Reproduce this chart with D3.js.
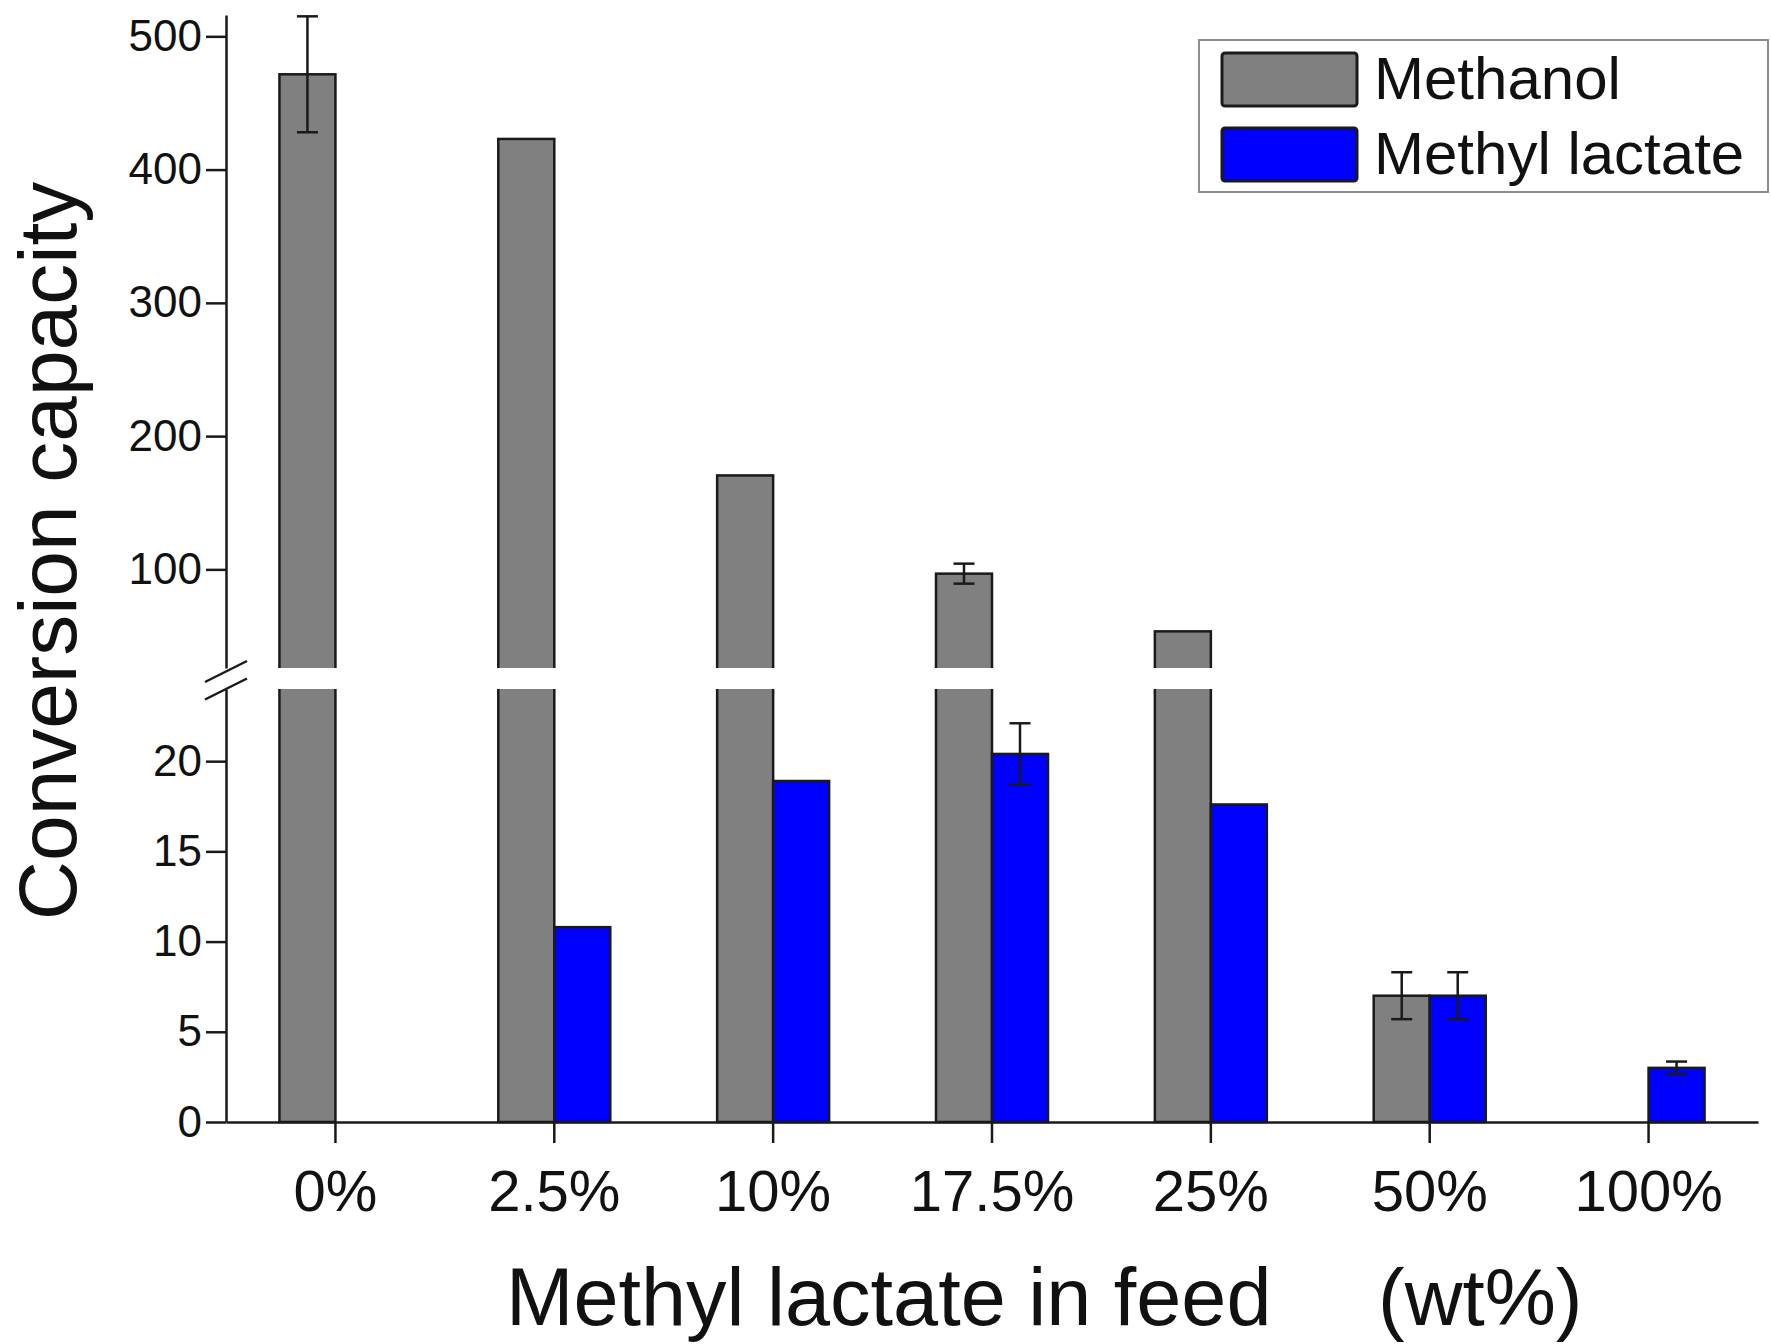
<!DOCTYPE html>
<html>
<head>
<meta charset="utf-8">
<script src="https://cdn.jsdelivr.net/npm/d3@7"></script>
<style>
  html, body { margin: 0; padding: 0; background: #fff; }
  svg { display: block; font-family: "Liberation Sans", Arial, Helvetica, sans-serif; }
</style>
</head>
<body>
<svg id="chart" width="1771" height="1344"></svg>
<script>
// Feed composition categories
const categories = ["0%", "2.5%", "10%", "17.5%", "25%", "50%", "100%"];
const seriesNames = ["Methanol", "Methyl lactate"];

// Conversion capacity per series, with error half-widths (null = no error bar)
const methanol    = [471.5, 423, 170.5, 96.8, 53.5, 7.0, 0];
const methanolErr = [43.5, null, null, 7.5, null, 1.3, null];
const lactate     = [0, 10.8, 18.9, 20.4, 17.6, 7.0, 3.0];
const lactateErr  = [null, null, null, 1.7, null, 1.3, 0.35];

// Tick values of the broken y axis
const upperTicks = [100, 200, 300, 400, 500];
const lowerTicks = [0, 5, 10, 15, 20];

const colors = { "Methanol": "#808080", "Methyl lactate": "#0000ff" };
const fontFamily = '"Liberation Sans", Arial, Helvetica, sans-serif';

const svg = d3.select("#chart");

// Scales: one band scale for feed composition, two linear segments for the broken axis
const x = d3.scaleBand().domain(categories).range([226, 1758]).padding(0);
const yUpper = d3.scaleLinear().domain([26, 516]).range([668, 15]);
const yLower = d3.scaleLinear().domain([0, 24]).range([1122, 689]);
const breakLow = yLower.domain()[1];
const breakHigh = yUpper.domain()[0];
const y = v => (v <= breakLow ? yLower(v) : yUpper(Math.max(v, breakHigh)));

const barW = 56;

const series = [
  { name: "Methanol", values: methanol, errs: methanolErr, side: -1 },
  { name: "Methyl lactate", values: lactate, errs: lactateErr, side: 0 }
];

// Bars
const gBars = svg.append("g");
series.forEach(s => {
  gBars.selectAll(null)
    .data(categories.map((c, i) => ({ c, v: s.values[i] })))
    .join("rect")
    .attr("x", d => x(d.c) + x.bandwidth() / 2 + s.side * barW)
    .attr("width", barW)
    .attr("y", d => y(d.v))
    .attr("height", d => y(0) - y(d.v))
    .attr("fill", colors[s.name])
    .attr("stroke", "#1a1a1a")
    .attr("stroke-width", 2.5);
});

// White band hiding the bars across the axis break
svg.append("rect")
  .attr("x", x.range()[0] + 10)
  .attr("width", x.range()[1] - x.range()[0])
  .attr("y", yUpper.range()[0])
  .attr("height", yLower.range()[1] - yUpper.range()[0])
  .attr("fill", "#fff");

// Error bars
const gErr = svg.append("g").attr("stroke", "#1a1a1a").attr("stroke-width", 2.5).attr("fill", "none");
series.forEach(s => {
  categories.forEach((c, i) => {
    const e = s.errs[i];
    if (e == null) return;
    const v = s.values[i];
    const cx = x(c) + x.bandwidth() / 2 + s.side * barW + barW / 2;
    const top = y(v + e), bot = y(v - e);
    gErr.append("line").attr("x1", cx).attr("x2", cx).attr("y1", top).attr("y2", bot);
    gErr.append("line").attr("x1", cx - 10.5).attr("x2", cx + 10.5).attr("y1", top).attr("y2", top);
    gErr.append("line").attr("x1", cx - 10.5).attr("x2", cx + 10.5).attr("y1", bot).attr("y2", bot);
  });
});

// Axes
function styleAxis(g, size) {
  g.attr("font-family", fontFamily);
  g.selectAll("path, line").attr("stroke", "#1a1a1a").attr("stroke-width", 2.5);
  g.selectAll("text").attr("fill", "#111").style("font-size", size + "px");
}

const x0 = x.range()[0];
svg.append("g")
  .attr("transform", `translate(${x0},0)`)
  .call(d3.axisLeft(yUpper).tickValues(upperTicks).tickSize(20).tickSizeOuter(0).tickPadding(4))
  .call(g => styleAxis(g, 44));

svg.append("g")
  .attr("transform", `translate(${x0},0)`)
  .call(d3.axisLeft(yLower).tickValues(lowerTicks).tickSize(20).tickSizeOuter(0).tickPadding(4))
  .call(g => styleAxis(g, 44));

svg.append("g")
  .attr("transform", `translate(0,${yLower(0)})`)
  .call(d3.axisBottom(x).tickSize(21).tickSizeOuter(0).tickPadding(27))
  .call(g => styleAxis(g, 58));

// Break marks on the y axis
const gBreak = svg.append("g").attr("stroke", "#1a1a1a").attr("stroke-width", 2.5);
[yUpper.range()[0] + 3.5, yLower.range()[1]].forEach(cy => {
  gBreak.append("line")
    .attr("x1", x0 - 21).attr("y1", cy + 10.5)
    .attr("x2", x0 + 21).attr("y2", cy - 10.5);
});

// Axis titles
svg.append("text")
  .attr("transform", `translate(76,551) rotate(-90)`)
  .attr("text-anchor", "middle")
  .style("font-size", "82px")
  .attr("fill", "#111")
  .text("Conversion capacity");

svg.append("text")
  .attr("x", 506).attr("y", 1325)
  .style("font-size", "81px")
  .attr("fill", "#111")
  .text("Methyl lactate in feed");

svg.append("text")
  .attr("x", 1378).attr("y", 1325)
  .style("font-size", "80px")
  .attr("fill", "#111")
  .text("(wt%)");

// Legend
const legend = svg.append("g");
legend.append("rect")
  .attr("x", 1199).attr("y", 40).attr("width", 569).attr("height", 152)
  .attr("fill", "#fff").attr("stroke", "#8c8c8c").attr("stroke-width", 2);
seriesNames.forEach((name, i) => {
  const ly = 53 + i * 75;
  legend.append("rect")
    .attr("x", 1222).attr("y", ly).attr("width", 135).attr("height", 53)
    .attr("rx", 3)
    .attr("fill", colors[name]).attr("stroke", "#1a1a1a").attr("stroke-width", 3);
  legend.append("text")
    .attr("x", 1374).attr("y", ly + 46)
    .style("font-size", "60px")
    .attr("fill", "#111")
    .text(name);
});
</script>
</body>
</html>
